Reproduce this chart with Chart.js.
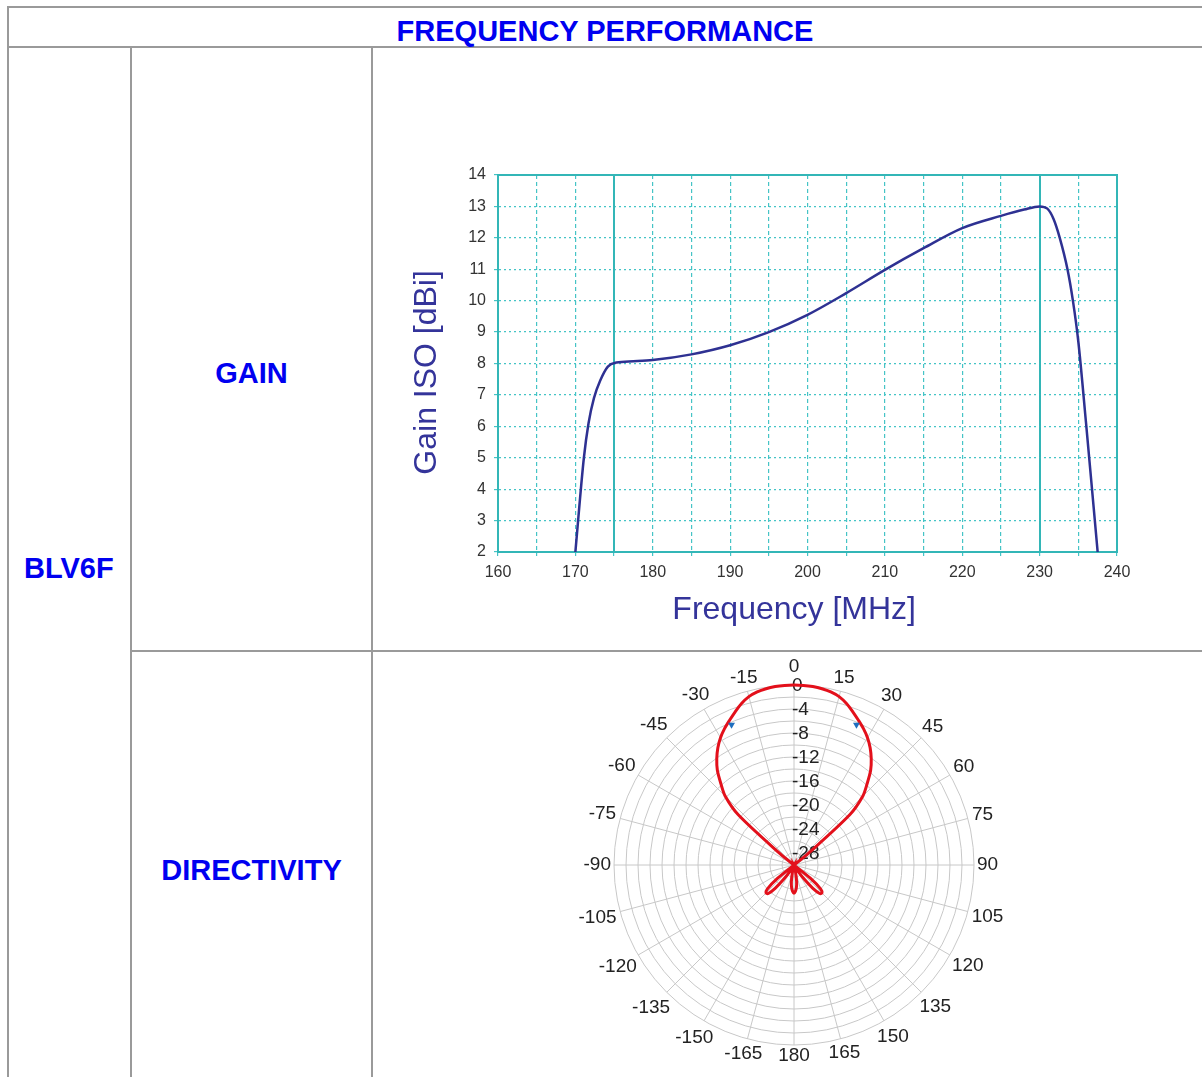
<!DOCTYPE html>
<html>
<head>
<meta charset="utf-8">
<script src="https://cdn.jsdelivr.net/npm/chart.js@4.4.1/dist/chart.umd.min.js"></script>
<style>
  html, body { margin: 0; padding: 0; background: #fff; overflow: hidden; }
  body { width: 1202px; height: 1077px; position: relative; font-family: "Liberation Sans", Arial, sans-serif; }
  .ln { position: absolute; background: #9a9a9a; }
  .lbl { position: absolute; color: #0000f0; font-weight: bold; font-size: 29px; line-height: 36px; white-space: nowrap; }
  canvas { position: absolute; }
</style>
</head>
<body>
<!-- table borders -->
<div class="ln" style="left:7px; top:6px; width:1195px; height:2px"></div>
<div class="ln" style="left:7px; top:46px; width:1195px; height:2px"></div>
<div class="ln" style="left:7px; top:6px; width:2px; height:1071px"></div>
<div class="ln" style="left:130px; top:46px; width:2px; height:1031px"></div>
<div class="ln" style="left:371px; top:46px; width:2px; height:1031px"></div>
<div class="ln" style="left:130px; top:650px; width:1072px; height:2px"></div>

<div class="lbl" style="left:8px; width:1194px; top:13px; text-align:center">FREQUENCY PERFORMANCE</div>
<div class="lbl" style="left:24px; top:550px">BLV6F</div>
<div class="lbl" style="left:131px; width:241px; top:355px; text-align:center">GAIN</div>
<div class="lbl" style="left:131px; width:241px; top:852px; text-align:center">DIRECTIVITY</div>

<canvas id="gainChart" width="826" height="498" style="left:374px; top:150px"></canvas>
<canvas id="dirChart" width="826" height="416" style="left:374px; top:657px"></canvas>

<script>
// --- gain curve ---
const freqMHz = [170, 171.1, 171.7, 172.4, 173.2, 174.2, 175.3, 177.5, 180, 185,
                 190, 195, 200, 205, 210, 215, 220, 225, 228, 230,
                 231, 231.8, 232.6, 233.6, 234.3, 235.0, 236.0, 237.5];
const gainDbi = [2.0, 5.0, 6.1, 6.9, 7.45, 7.9, 8.03, 8.07, 8.11, 8.29,
                 8.58, 9.0, 9.55, 10.24, 10.98, 11.67, 12.31, 12.70, 12.9, 13.0,
                 12.93, 12.6, 12.0, 11.0, 10.0, 8.7, 6.1, 2.0];
const freqTicks = [160, 170, 180, 190, 200, 210, 220, 230, 240];
const bandEdgesMHz = [175, 230];

// --- directivity pattern, 3 degree steps, 0 = forward, clockwise ---
const bearings = Array.from({ length: 120 }, (_, i) => i * 3);
const directivityDb = [
  0, -0.03, -0.1, -0.25, -0.5, -0.95, -1.7, -2.65, -3.6, -4.5,          // 0..27
  -5.5, -6.7, -8.1, -9.7, -11.8, -13.8, -17.5, -27, -30, -30,           // 30..57
  -30, -30, -30, -30, -30, -30, -30, -30, -30, -30,                     // 60..87
  -30, -30, -30, -30, -30, -30, -30, -30, -30, -30,                     // 90..117
  -30, -30, -30, -26.5, -24, -23.4, -23.6, -25, -27, -28.8,             // 120..147
  -30, -30, -30, -30, -30, -30, -28.7, -27.2, -26.2, -25.6,             // 150..177
  -25.3, -25.6, -26.2, -27.2, -28.7, -30, -30, -30, -30, -30,           // 180..207
  -30, -28.8, -27, -25, -23.6, -23.4, -24, -26.5, -30, -30,             // 210..237
  -30, -30, -30, -30, -30, -30, -30, -30, -30, -30,                     // 240..267
  -30, -30, -30, -30, -30, -30, -30, -30, -30, -30,                     // 270..297
  -30, -30, -30, -27, -17.5, -13.8, -11.8, -9.7, -8.1, -6.7,            // 300..327
  -5.5, -4.5, -3.6, -2.65, -1.7, -0.95, -0.5, -0.25, -0.1, -0.03        // 330..357
];
// -3 dB beamwidth markers
const markerBearings = [24, 336];
const markerDb = [-4.4, -4.4];
const angleLabels = ['0', '15', '30', '45', '60', '75', '90', '105', '120', '135', '150', '165',
                     '180', '-165', '-150', '-135', '-120', '-105', '-90', '-75', '-60', '-45', '-30', '-15'];
const ringLabels = [0, -4, -8, -12, -16, -20, -24, -28];

const FONT = '"Liberation Sans", Arial, sans-serif';
const TEAL = '#45c4c6';
const TEAL_DARK = '#33b6b7';

// solid frame + band edge lines on the gain plot
const gainFrame = {
  id: 'gainFrame',
  beforeDatasetsDraw(chart) {
    const { ctx, chartArea: a, scales: { x } } = chart;
    ctx.save();
    ctx.strokeStyle = TEAL_DARK;
    ctx.lineWidth = 2;
    ctx.strokeRect(a.left, a.top, a.right - a.left, a.bottom - a.top);
    bandEdgesMHz.forEach(f => {
      const px = Math.round(x.getPixelForValue(f));
      ctx.beginPath();
      ctx.moveTo(px, a.top);
      ctx.lineTo(px, a.bottom);
      ctx.stroke();
    });
    ctx.restore();
  }
};

new Chart(document.getElementById('gainChart'), {
  type: 'line',
  data: {
    datasets: [{
      data: freqMHz.map((f, i) => ({ x: f, y: gainDbi[i] })),
      borderColor: '#2e3192',
      borderWidth: 2.5,
      pointRadius: 0,
      fill: false,
      cubicInterpolationMode: 'monotone'
    }]
  },
  options: {
    responsive: false,
    animation: false,
    devicePixelRatio: 1,
    layout: { padding: { left: 0, top: 25, right: 83, bottom: 0 } },
    plugins: { legend: { display: false }, tooltip: { enabled: false } },
    scales: {
      x: {
        type: 'linear', min: 160, max: 240,
        afterFit: s => { s.height = 96; },
        ticks: {
          stepSize: 5, autoSkip: false, maxRotation: 0, padding: 7,
          color: '#333', font: { size: 16, family: FONT },
          callback: v => freqTicks.includes(v) ? String(v) : ''
        },
        grid: { color: TEAL, lineWidth: 1.2, tickLength: 4, tickColor: TEAL },
        border: { color: TEAL_DARK, width: 2, dash: [4, 3] },
        title: {
          display: true, text: 'Frequency [MHz]   ', color: '#34349a',
          font: { size: 32, family: FONT }, padding: { top: 0, bottom: 19 }
        }
      },
      y: {
        min: 2, max: 14,
        afterFit: s => { s.width = 124; },
        ticks: { stepSize: 1, padding: 8, color: '#333', font: { size: 16, family: FONT } },
        grid: { color: TEAL, lineWidth: 1.2, tickLength: 4, tickColor: TEAL },
        border: { color: TEAL_DARK, width: 2, dash: [2, 3] },
        title: {
          display: true, text: 'Gain ISO [dBi]  ', color: '#34349a',
          font: { size: 32, family: FONT }, padding: { top: 34, bottom: 0 }
        }
      }
    }
  },
  plugins: [gainFrame]
});

// angle labels around the rim and dB labels along the 0 degree spoke
const polarLabels = {
  id: 'polarLabels',
  beforeDatasetsDraw(chart) {
    const r = chart.scales.r;
    const ctx = chart.ctx;
    ctx.save();
    ctx.font = '19px ' + FONT;
    ctx.fillStyle = '#222';
    ctx.textBaseline = 'middle';
    ctx.textAlign = 'center';
    angleLabels.forEach((txt, k) => {
      const idx = bearings.indexOf(k * 15);
      const ang = r.getIndexAngle(idx);
      const w = ctx.measureText(txt).width;
      const d = r.drawingArea + 3 + Math.abs(Math.sin(ang)) * w / 2 + Math.abs(Math.cos(ang)) * 8 + (k === 0 ? 7 : 0);
      const p = r.getPointPosition(idx, d);
      ctx.fillText(txt, p.x, p.y);
    });
    ctx.textAlign = 'left';
    ringLabels.forEach(v => {
      const d = r.getDistanceFromCenterForValue(v);
      ctx.fillText(String(v), r.xCenter - 2, r.yCenter - d + 1);
    });
    ctx.restore();
  }
};

const markerData = bearings.map(b => {
  const k = markerBearings.indexOf(b);
  return k >= 0 ? markerDb[k] : null;
});

new Chart(document.getElementById('dirChart'), {
  type: 'radar',
  data: {
    labels: bearings,
    datasets: [{
      data: directivityDb,
      borderColor: '#e3101b',
      borderWidth: 3,
      pointRadius: 0,
      fill: false,
      tension: 0.3,
      order: 1
    }, {
      data: markerData,
      showLine: false,
      pointStyle: 'triangle',
      rotation: 180,
      pointRadius: 4,
      pointBorderWidth: 0,
      pointBackgroundColor: '#1f6fbf',
      pointBorderColor: '#1f6fbf',
      order: 0
    }]
  },
  options: {
    responsive: false,
    animation: false,
    devicePixelRatio: 1,
    layout: { padding: { left: 14, top: 28, right: 0, bottom: 28 } },
    plugins: { legend: { display: false }, tooltip: { enabled: false } },
    scales: {
      r: {
        min: -30, max: 0, startAngle: 0,
        ticks: { display: false, stepSize: 2 },
        grid: { circular: true, color: '#c8c8c8', lineWidth: 1 },
        angleLines: { color: c => c.index % 5 === 0 ? '#c8c8c8' : 'rgba(0,0,0,0)', lineWidth: 1 },
        pointLabels: { display: false }
      }
    }
  },
  plugins: [polarLabels]
});
</script>
</body>
</html>
